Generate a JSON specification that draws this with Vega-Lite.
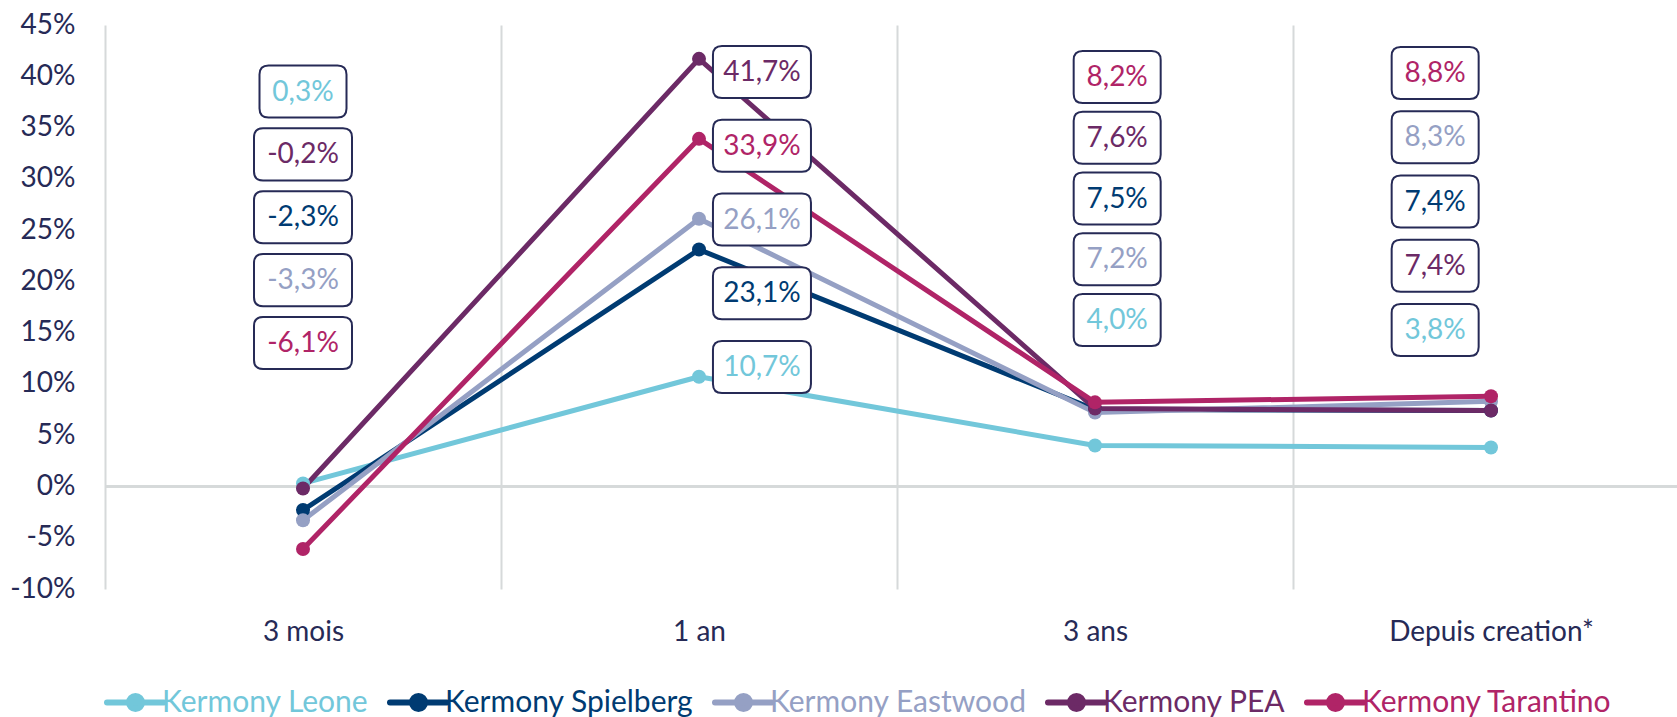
{
  "$schema": "https://vega.github.io/schema/vega-lite/v6.json",
  "autosize": {"type": "none"},
  "padding": {"left": 105, "top": 25, "right": 0, "bottom": 128},
  "width": 1572,
  "height": 564,
  "background": "white",
  "config": {
    "font": "Lato",
    "view": {"stroke": null},
    "locale": {"number": {"decimal": ",", "thousands": " ", "grouping": [3], "currency": ["", " €"], "minus": "-", "percent": "%"}}
  },
  "data": {"values": [
    {"series": "Kermony Leone", "period": "3 mois", "value": 0.003},
    {"series": "Kermony Leone", "period": "1 an", "value": 0.107},
    {"series": "Kermony Leone", "period": "3 ans", "value": 0.040},
    {"series": "Kermony Leone", "period": "Depuis creation*", "value": 0.038},
    {"series": "Kermony Spielberg", "period": "3 mois", "value": -0.023},
    {"series": "Kermony Spielberg", "period": "1 an", "value": 0.231},
    {"series": "Kermony Spielberg", "period": "3 ans", "value": 0.075},
    {"series": "Kermony Spielberg", "period": "Depuis creation*", "value": 0.074},
    {"series": "Kermony Eastwood", "period": "3 mois", "value": -0.033},
    {"series": "Kermony Eastwood", "period": "1 an", "value": 0.261},
    {"series": "Kermony Eastwood", "period": "3 ans", "value": 0.072},
    {"series": "Kermony Eastwood", "period": "Depuis creation*", "value": 0.083},
    {"series": "Kermony PEA", "period": "3 mois", "value": -0.002},
    {"series": "Kermony PEA", "period": "1 an", "value": 0.417},
    {"series": "Kermony PEA", "period": "3 ans", "value": 0.076},
    {"series": "Kermony PEA", "period": "Depuis creation*", "value": 0.074},
    {"series": "Kermony Tarantino", "period": "3 mois", "value": -0.061},
    {"series": "Kermony Tarantino", "period": "1 an", "value": 0.339},
    {"series": "Kermony Tarantino", "period": "3 ans", "value": 0.082},
    {"series": "Kermony Tarantino", "period": "Depuis creation*", "value": 0.088}
  ]},
  "transform": [
    {"window": [{"op": "row_number", "as": "slot"}], "groupby": ["period"], "sort": [{"field": "value", "order": "descending"}, {"field": "series", "order": "descending"}]}
  ],
  "resolve": {"scale": {"y": "independent"}},
  "layer": [
    {
      "encoding": {
        "x": {"field": "period", "type": "nominal", "sort": ["3 mois", "1 an", "3 ans", "Depuis creation*"],
          "scale": {"domain": ["3 mois", "1 an", "3 ans", "Depuis creation*"], "range": [0, 1584], "paddingInner": 0, "paddingOuter": 0},
          "axis": {"title": null, "labelAngle": 0, "labelFont": "Lato", "labelFontSize": 28, "labelColor": "#262a56", "labelPadding": 29, "labelLimit": 400, "ticks": false, "domain": false, "grid": true, "tickBand": "extent", "gridColor": "#d6d9da", "gridWidth": 2}}
      },
      "layer": [
        {"mark": {"type": "rule", "color": "#d6d9da", "strokeWidth": 2}, "encoding": {"y": {"datum": 0, "type": "quantitative"}, "x": null}},
        {
          "mark": {"type": "line", "strokeWidth": 5, "strokeCap": "round", "strokeJoin": "round"},
          "encoding": {
            "y": {"field": "value", "type": "quantitative", "scale": {"domain": [-0.1, 0.45], "nice": false, "zero": false},
              "axis": {"title": null, "format": ".0%", "values": [-0.1, -0.05, 0, 0.05, 0.1, 0.15, 0.2, 0.25, 0.3, 0.35, 0.4, 0.45], "labelFont": "Lato", "labelFontSize": 28, "labelColor": "#262a56", "labelPadding": 30, "ticks": false, "domain": false, "grid": false}},
            "color": {"field": "series", "type": "nominal",
              "scale": {"domain": ["Kermony Leone", "Kermony Spielberg", "Kermony Eastwood", "Kermony PEA", "Kermony Tarantino"], "range": ["#72c7da", "#003b72", "#95a0c4", "#6c2a66", "#b02467"]},
              "legend": {"title": null, "orient": "none", "direction": "horizontal", "legendX": -1, "legendY": 646,
                "symbolType": "M-1,0L1,0M-0.228,0A0.228,0.228 0 1,1 0.228,0A0.228,0.228 0 1,1 -0.228,0Z",
                "symbolSize": 3249, "symbolStrokeWidth": 6, "labelFont": "Lato", "labelFontSize": 30, "labelOffset": -5, "columnPadding": 9, "labelLimit": 400,
                "encode": {
                  "labels": {"update": {"fill": {"scale": "color", "field": "value"}}},
                  "symbols": {"update": {"fill": {"scale": "color", "field": "value"}, "stroke": {"scale": "color", "field": "value"}, "strokeWidth": {"value": 6}, "strokeCap": {"value": "round"}, "opacity": {"value": 1}}}
                }}}
          }
        },
        {
          "mark": {"type": "circle", "size": 196, "opacity": 1},
          "encoding": {
            "y": {"field": "value", "type": "quantitative"},
            "color": {"field": "series", "type": "nominal"}
          }
        }
      ]
    },
    {
      "transform": [{"filter": "datum.period === '3 mois'"}],
      "encoding": {
        "x": {"field": "period", "type": "nominal", "bandPosition": 0.5},
        "y": {"field": "slot", "type": "ordinal", "scale": {"type": "point", "domain": [1, 2, 3, 4, 5], "range": [66.5, 318], "padding": 0}, "axis": null}
      },
      "layer": [
        {"mark": {"type": "point", "filled": true, "fill": "white", "stroke": "#262a56", "strokeWidth": 2, "opacity": 1},
         "encoding": {
           "shape": {"condition": {"test": "datum.value < 0 || datum.value >= 0.1", "value": "M-0.816,-0.531L0.816,-0.531Q1,-0.531 1,-0.347L1,0.347Q1,0.531 0.816,0.531L-0.816,0.531Q-1,0.531 -1,0.347L-1,-0.347Q-1,-0.531 -0.816,-0.531Z"}, "value": "M-0.793,-0.598L0.793,-0.598Q1,-0.598 1,-0.391L1,0.391Q1,0.598 0.793,0.598L-0.793,0.598Q-1,0.598 -1,0.391L-1,-0.391Q-1,-0.598 -0.793,-0.598Z"},
           "size": {"condition": {"test": "datum.value < 0 || datum.value >= 0.1", "value": 9604}, "value": 7569}
         }},
        {"mark": {"type": "text", "font": "Lato", "fontSize": 28, "baseline": "middle", "align": "center", "dy": 1},
         "encoding": {"text": {"field": "value", "type": "quantitative", "format": ".1%"}, "color": {"field": "series", "type": "nominal"}}}
      ]
    },
    {
      "transform": [{"filter": "datum.period === '1 an'"}],
      "encoding": {
        "x": {"field": "period", "type": "nominal", "bandPosition": 0.659},
        "y": {"field": "slot", "type": "ordinal", "scale": {"type": "point", "domain": [1, 2, 3, 4, 5], "range": [47, 342], "padding": 0}, "axis": null}
      },
      "layer": [
        {"mark": {"type": "point", "filled": true, "fill": "white", "stroke": "#262a56", "strokeWidth": 2, "opacity": 1},
         "encoding": {
           "shape": {"condition": {"test": "datum.value < 0 || datum.value >= 0.1", "value": "M-0.816,-0.531L0.816,-0.531Q1,-0.531 1,-0.347L1,0.347Q1,0.531 0.816,0.531L-0.816,0.531Q-1,0.531 -1,0.347L-1,-0.347Q-1,-0.531 -0.816,-0.531Z"}, "value": "M-0.793,-0.598L0.793,-0.598Q1,-0.598 1,-0.391L1,0.391Q1,0.598 0.793,0.598L-0.793,0.598Q-1,0.598 -1,0.391L-1,-0.391Q-1,-0.598 -0.793,-0.598Z"},
           "size": {"condition": {"test": "datum.value < 0 || datum.value >= 0.1", "value": 9604}, "value": 7569}
         }},
        {"mark": {"type": "text", "font": "Lato", "fontSize": 28, "baseline": "middle", "align": "center", "dy": 1},
         "encoding": {"text": {"field": "value", "type": "quantitative", "format": ".1%"}, "color": {"field": "series", "type": "nominal"}}}
      ]
    },
    {
      "transform": [{"filter": "datum.period === '3 ans'"}],
      "encoding": {
        "x": {"field": "period", "type": "nominal", "bandPosition": 0.556},
        "y": {"field": "slot", "type": "ordinal", "scale": {"type": "point", "domain": [1, 2, 3, 4, 5], "range": [52, 295], "padding": 0}, "axis": null}
      },
      "layer": [
        {"mark": {"type": "point", "filled": true, "fill": "white", "stroke": "#262a56", "strokeWidth": 2, "opacity": 1},
         "encoding": {
           "shape": {"condition": {"test": "datum.value < 0 || datum.value >= 0.1", "value": "M-0.816,-0.531L0.816,-0.531Q1,-0.531 1,-0.347L1,0.347Q1,0.531 0.816,0.531L-0.816,0.531Q-1,0.531 -1,0.347L-1,-0.347Q-1,-0.531 -0.816,-0.531Z"}, "value": "M-0.793,-0.598L0.793,-0.598Q1,-0.598 1,-0.391L1,0.391Q1,0.598 0.793,0.598L-0.793,0.598Q-1,0.598 -1,0.391L-1,-0.391Q-1,-0.598 -0.793,-0.598Z"},
           "size": {"condition": {"test": "datum.value < 0 || datum.value >= 0.1", "value": 9604}, "value": 7569}
         }},
        {"mark": {"type": "text", "font": "Lato", "fontSize": 28, "baseline": "middle", "align": "center", "dy": 1},
         "encoding": {"text": {"field": "value", "type": "quantitative", "format": ".1%"}, "color": {"field": "series", "type": "nominal"}}}
      ]
    },
    {
      "transform": [{"filter": "datum.period === 'Depuis creation*'"}],
      "encoding": {
        "x": {"field": "period", "type": "nominal", "bandPosition": 0.359},
        "y": {"field": "slot", "type": "ordinal", "scale": {"type": "point", "domain": [1, 2, 3, 4, 5], "range": [48, 305], "padding": 0}, "axis": null}
      },
      "layer": [
        {"mark": {"type": "point", "filled": true, "fill": "white", "stroke": "#262a56", "strokeWidth": 2, "opacity": 1},
         "encoding": {
           "shape": {"condition": {"test": "datum.value < 0 || datum.value >= 0.1", "value": "M-0.816,-0.531L0.816,-0.531Q1,-0.531 1,-0.347L1,0.347Q1,0.531 0.816,0.531L-0.816,0.531Q-1,0.531 -1,0.347L-1,-0.347Q-1,-0.531 -0.816,-0.531Z"}, "value": "M-0.793,-0.598L0.793,-0.598Q1,-0.598 1,-0.391L1,0.391Q1,0.598 0.793,0.598L-0.793,0.598Q-1,0.598 -1,0.391L-1,-0.391Q-1,-0.598 -0.793,-0.598Z"},
           "size": {"condition": {"test": "datum.value < 0 || datum.value >= 0.1", "value": 9604}, "value": 7569}
         }},
        {"mark": {"type": "text", "font": "Lato", "fontSize": 28, "baseline": "middle", "align": "center", "dy": 1},
         "encoding": {"text": {"field": "value", "type": "quantitative", "format": ".1%"}, "color": {"field": "series", "type": "nominal"}}}
      ]
    }
  ]
}
